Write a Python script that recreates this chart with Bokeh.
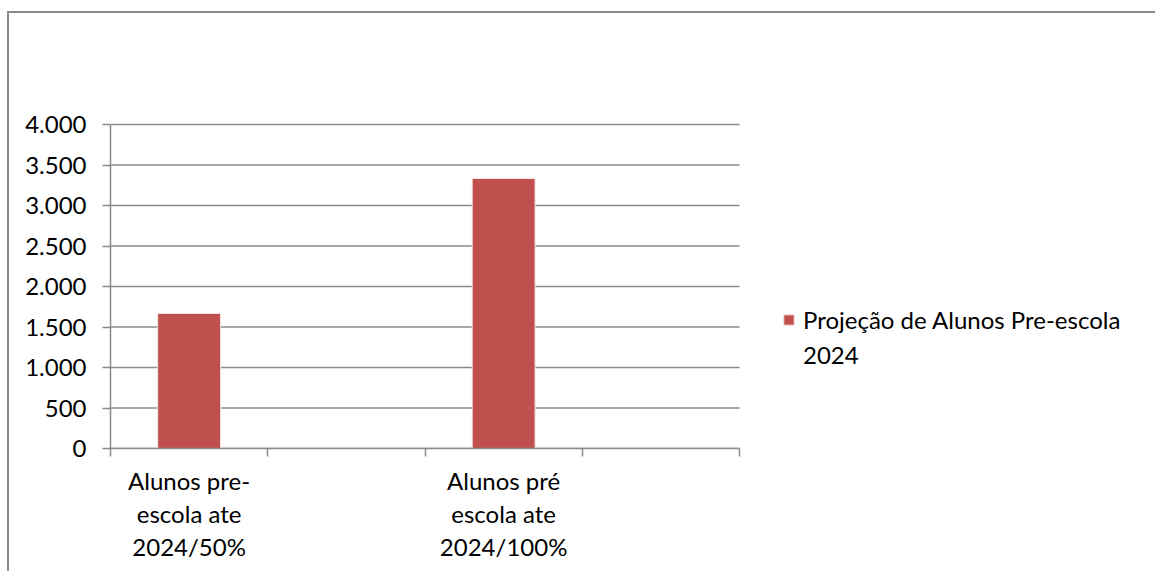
from bokeh.plotting import figure
from bokeh.models import Range1d, FixedTicker, Legend, LegendItem, ColumnDataSource
from bokeh.embed import file_html
from bokeh.resources import INLINE

# ---- data ----
categories = ["Alunos pre-\nescola ate\n2024/50%", "", "Alunos pré\nescola ate\n2024/100%", ""]
values = [1667, None, 3333, None]
series_name_lines = ["Projeção de Alunos Pre-escola", "2024"]
y_ticks = [0, 500, 1000, 1500, 2000, 2500, 3000, 3500, 4000]
y_tick_labels = ["0", "500", "1.000", "1.500", "2.000", "2.500", "3.000", "3.500", "4.000"]

FONT = "Lato"
FS = "24px"
GRAY = "#8a8a8a"
BAR = "#C0504D"

# layout (pixels)
LEFT, TOP, BOTTOM = 110, 124, 123
PLOT_W, PLOT_H = 629, 324          # width of the category area, height of the value area
PAD = 2                             # extra pixels above the top gridline so it is not clipped
FRAME_W = 1155 - LEFT               # frame runs to the page edge so the legend is inside it

n = len(categories)
xs = [i + 0.5 for i, v in enumerate(values) if v is not None]
tops = [v for v in values if v is not None]
src = ColumnDataSource(dict(x=xs, top=tops))
grid_src = ColumnDataSource(dict(x0=[0] * len(y_ticks), x1=[n] * len(y_ticks), y=y_ticks))

y_span = y_ticks[-1] - y_ticks[0]
p = figure(frame_width=FRAME_W, frame_height=PLOT_H + PAD, output_backend="svg", toolbar_location=None,
           x_range=Range1d(0, n * FRAME_W / PLOT_W),
           y_range=Range1d(y_ticks[0], y_ticks[-1] + y_span * PAD / PLOT_H),
           min_border_left=LEFT, min_border_right=0, min_border_top=TOP - PAD, min_border_bottom=BOTTOM)
p.outline_line_color = None
p.background_fill_color = "white"
p.border_fill_color = None
p.styles = {"box-shadow": "inset 7px 11px 0px 0px #ffffff, inset 9px 13px 0px 0px #8a8a8a",
            "background-color": "white"}

# horizontal gridlines over the category area only
p.segment(x0="x0", x1="x1", y0="y", y1="y", source=grid_src, line_color=GRAY, line_width=1.5)

r = p.vbar(x="x", top="top", width=0.4, bottom=0, source=src,
           fill_color=BAR, line_color="#f2e4e4", line_width=1)
# invisible companion renderer for the wrapped second legend line
r_blank = p.vbar(x=[], top=[], width=0.4, fill_alpha=0, line_alpha=0)

# y axis
ya = p.yaxis[0]
ya.bounds = (y_ticks[0], y_ticks[-1])
ya.ticker = FixedTicker(ticks=y_ticks)
ya.major_label_overrides = {t: l for t, l in zip(y_ticks, y_tick_labels)}
ya.axis_line_color = GRAY
ya.axis_line_width = 1.5
ya.major_tick_line_color = GRAY
ya.major_tick_line_width = 1.5
ya.major_tick_out = 8
ya.major_tick_in = 0
ya.minor_tick_line_color = None
ya.major_label_standoff = 16
ya.major_label_text_font = FONT
ya.major_label_text_font_size = FS
ya.major_label_text_color = "black"

# x axis
label_pos = [i + 0.5 for i in range(n)]
xa = p.xaxis[0]
xa.bounds = (0, n)
xa.ticker = FixedTicker(ticks=label_pos, minor_ticks=list(range(n + 1)))
xa.major_label_overrides = {pos: lab for pos, lab in zip(label_pos, categories)}
xa.axis_line_color = GRAY
xa.axis_line_width = 1.5
xa.major_tick_line_color = None
xa.major_tick_out = 0
xa.major_tick_in = 0
xa.minor_tick_line_color = GRAY
xa.minor_tick_line_width = 1.5
xa.minor_tick_out = 8
xa.minor_tick_in = 0
xa.major_label_standoff = 9
xa.major_label_text_font = FONT
xa.major_label_text_font_size = FS
xa.major_label_text_color = "black"
xa.major_label_text_line_height = 1.14
xa.major_label_orientation = "horizontal"

p.xgrid.grid_line_color = None
p.ygrid.grid_line_color = None

legend = Legend(items=[LegendItem(label=series_name_lines[0], renderers=[r]),
                       LegendItem(label=series_name_lines[1], renderers=[r_blank])],
                location=(PLOT_W + 43, 79), orientation="vertical",
                background_fill_alpha=0, border_line_color=None,
                padding=0, margin=0, spacing=5,
                glyph_width=13, glyph_height=13, label_standoff=8, label_height=30,
                label_text_font=FONT, label_text_font_size=FS,
                label_text_color="black")
p.add_layout(legend, "center")

open("out.html", "w").write(file_html(p, INLINE))
